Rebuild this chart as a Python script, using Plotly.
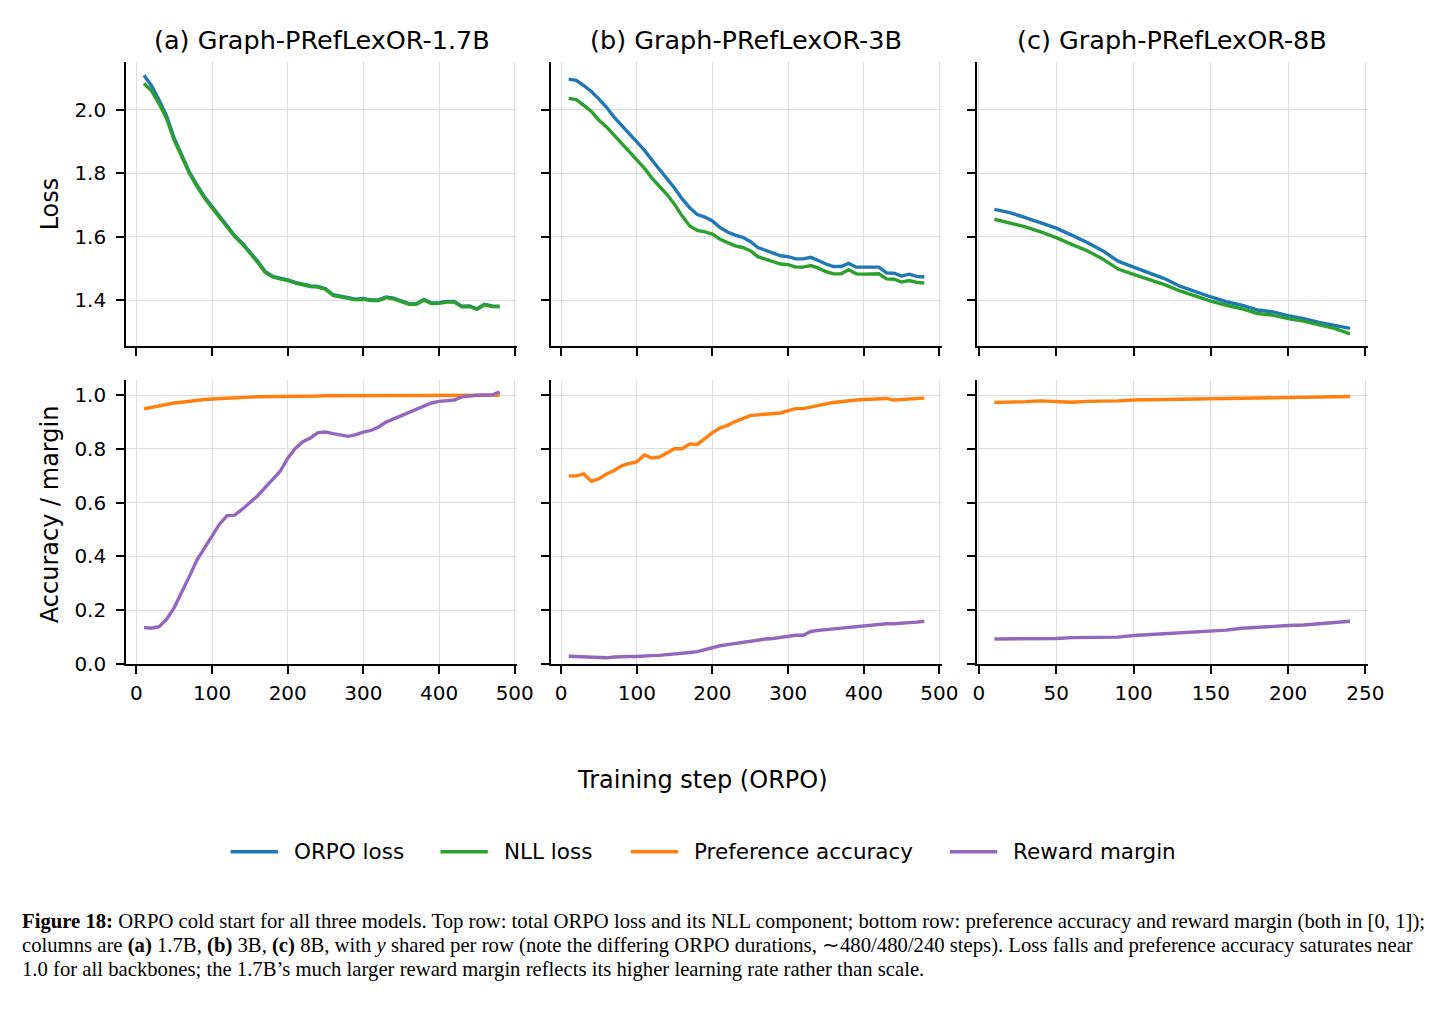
import plotly.graph_objects as go

# ---------------- data ----------------
steps_a = list(range(10, 490, 10))   # 1.7B, 48 points
steps_b = list(range(10, 490, 10))   # 3B
steps_c = list(range(10, 250, 10))   # 8B, 24 points

orpo_a = [2.109, 2.076, 2.030, 1.980, 1.910, 1.857, 1.804, 1.763, 1.726, 1.695,
          1.663, 1.632, 1.603, 1.580, 1.552, 1.523, 1.491, 1.475, 1.469, 1.464,
          1.456, 1.451, 1.445, 1.443, 1.436, 1.417, 1.412, 1.408, 1.403, 1.405,
          1.401, 1.401, 1.410, 1.406, 1.397, 1.389, 1.389, 1.402, 1.391, 1.392,
          1.396, 1.396, 1.381, 1.382, 1.373, 1.387, 1.382, 1.381]
nll_a = [2.083, 2.060, 2.019, 1.972, 1.904, 1.852, 1.800, 1.759, 1.722, 1.691,
         1.660, 1.629, 1.600, 1.577, 1.549, 1.520, 1.488, 1.473, 1.467, 1.462,
         1.454, 1.449, 1.443, 1.441, 1.434, 1.415, 1.410, 1.406, 1.401, 1.403,
         1.399, 1.399, 1.408, 1.404, 1.395, 1.387, 1.387, 1.400, 1.389, 1.390,
         1.394, 1.394, 1.379, 1.380, 1.371, 1.385, 1.380, 1.379]

orpo_b = [2.097, 2.093, 2.076, 2.058, 2.034, 2.008, 1.977, 1.951, 1.925, 1.899,
          1.873, 1.842, 1.813, 1.785, 1.753, 1.719, 1.691, 1.670, 1.662, 1.650,
          1.629, 1.615, 1.605, 1.598, 1.585, 1.566, 1.558, 1.549, 1.540, 1.537,
          1.530, 1.530, 1.535, 1.525, 1.514, 1.506, 1.506, 1.516, 1.504, 1.504,
          1.504, 1.504, 1.486, 1.485, 1.476, 1.482, 1.475, 1.473]
nll_b = [2.036, 2.032, 2.014, 1.995, 1.967, 1.946, 1.920, 1.894, 1.868, 1.842,
         1.816, 1.785, 1.759, 1.733, 1.702, 1.665, 1.634, 1.620, 1.615, 1.608,
         1.592, 1.582, 1.571, 1.566, 1.556, 1.537, 1.530, 1.522, 1.514, 1.512,
         1.504, 1.504, 1.509, 1.501, 1.490, 1.483, 1.483, 1.496, 1.483, 1.482,
         1.483, 1.483, 1.467, 1.466, 1.457, 1.462, 1.456, 1.454]

orpo_c = [1.686, 1.676, 1.660, 1.644, 1.627, 1.605, 1.582, 1.556, 1.523, 1.504,
          1.485, 1.468, 1.444, 1.426, 1.410, 1.395, 1.384, 1.369, 1.363, 1.351,
          1.342, 1.330, 1.321, 1.311]
nll_c = [1.655, 1.644, 1.631, 1.615, 1.597, 1.576, 1.556, 1.530, 1.498, 1.481,
         1.464, 1.449, 1.429, 1.412, 1.397, 1.384, 1.373, 1.358, 1.353, 1.342,
         1.334, 1.322, 1.311, 1.294]

acc_a = [0.949, 0.955, 0.961, 0.966, 0.971, 0.974, 0.978, 0.981, 0.984, 0.986,
         0.988, 0.989, 0.990, 0.991, 0.993, 0.994, 0.994, 0.995, 0.995, 0.996,
         0.996, 0.997, 0.997, 0.997, 0.998, 0.998, 0.998, 0.998, 0.999, 0.999,
         0.999, 0.999, 0.999, 0.999, 0.999, 0.999, 1.000, 1.000, 1.000, 1.000,
         1.000, 1.000, 1.000, 1.000, 1.000, 1.000, 1.000, 1.000]
margin_a = [0.136, 0.133, 0.139, 0.167, 0.210, 0.265, 0.326, 0.387, 0.430, 0.473,
            0.521, 0.552, 0.554, 0.576, 0.601, 0.625, 0.656, 0.686, 0.717, 0.766,
            0.802, 0.827, 0.841, 0.861, 0.863, 0.857, 0.851, 0.847, 0.853, 0.863,
            0.869, 0.882, 0.900, 0.912, 0.922, 0.936, 0.949, 0.961, 0.971, 0.977,
            0.978, 0.982, 0.994, 0.998, 1.000, 1.001, 1.001, 1.013]

acc_b = [0.700, 0.700, 0.707, 0.680, 0.689, 0.707, 0.720, 0.737, 0.746, 0.752,
         0.778, 0.766, 0.770, 0.786, 0.801, 0.801, 0.819, 0.817, 0.839, 0.861,
         0.878, 0.888, 0.902, 0.914, 0.924, 0.927, 0.929, 0.932, 0.934, 0.943,
         0.950, 0.950, 0.957, 0.963, 0.968, 0.973, 0.977, 0.979, 0.982, 0.984,
         0.985, 0.987, 0.988, 0.982, 0.984, 0.985, 0.988, 0.989]
margin_b = [0.029, 0.028, 0.026, 0.023, 0.022, 0.023, 0.026, 0.028, 0.028, 0.028,
            0.031, 0.031, 0.032, 0.034, 0.037, 0.038, 0.043, 0.046, 0.054, 0.062,
            0.068, 0.072, 0.076, 0.083, 0.087, 0.089, 0.093, 0.095, 0.099, 0.105,
            0.107, 0.107, 0.121, 0.125, 0.128, 0.132, 0.134, 0.136, 0.140, 0.144,
            0.145, 0.147, 0.150, 0.150, 0.151, 0.154, 0.156, 0.159]

acc_c = [0.973, 0.973, 0.976, 0.979, 0.978, 0.974, 0.977, 0.977, 0.979, 0.982,
         0.983, 0.985, 0.987, 0.988, 0.989, 0.987, 0.989, 0.990, 0.990, 0.991,
         0.993, 0.993, 0.994, 0.995]
margin_c = [0.093, 0.093, 0.094, 0.094, 0.095, 0.098, 0.098, 0.098, 0.100, 0.106,
            0.109, 0.112, 0.115, 0.117, 0.122, 0.126, 0.133, 0.137, 0.139, 0.143,
            0.145, 0.149, 0.154, 0.159]

panel_titles = ["(a) Graph-PRefLexOR-1.7B", "(b) Graph-PRefLexOR-3B", "(c) Graph-PRefLexOR-8B"]
series_names = ["ORPO loss", "NLL loss", "Preference accuracy", "Reward margin"]
series_colors = ["#1f77b4", "#2ca02c", "#ff7f0e", "#9467bd"]
ticks_ab = [0, 100, 200, 300, 400, 500]
ticks_c = [0, 50, 100, 150, 200, 250]
ticks_loss = [1.4, 1.6, 1.8, 2.0]
ticks_acc = [0.0, 0.2, 0.4, 0.6, 0.8, 1.0]

# ---------------- figure ----------------
W, H = 1438, 1009
fig = go.Figure()

top_data = [(steps_a, orpo_a, nll_a), (steps_b, orpo_b, nll_b), (steps_c, orpo_c, nll_c)]
bot_data = [(steps_a, acc_a, margin_a), (steps_b, acc_b, margin_b), (steps_c, acc_c, margin_c)]

LW = 3.4
for i, (s, o, n) in enumerate(top_data):
    ax = "" if i == 0 else str(i + 1)
    fig.add_trace(go.Scatter(x=s, y=o, mode="lines", name=series_names[0],
                             line=dict(color=series_colors[0], width=LW),
                             xaxis="x" + ax, yaxis="y" + ax, showlegend=False))
    fig.add_trace(go.Scatter(x=s, y=n, mode="lines", name=series_names[1],
                             line=dict(color=series_colors[1], width=LW),
                             xaxis="x" + ax, yaxis="y" + ax, showlegend=False))
for i, (s, a, m) in enumerate(bot_data):
    ax = str(i + 4)
    fig.add_trace(go.Scatter(x=s, y=a, mode="lines", name=series_names[2],
                             line=dict(color=series_colors[2], width=LW),
                             xaxis="x" + ax, yaxis="y" + ax, showlegend=False))
    fig.add_trace(go.Scatter(x=s, y=m, mode="lines", name=series_names[3],
                             line=dict(color=series_colors[3], width=LW),
                             xaxis="x" + ax, yaxis="y" + ax, showlegend=False))

col_px = [(124, 521), (555, 952), (987, 1384)]
row_px = [(63, 350), (385, 672)]
FONT = "DejaVu Sans"
tickfont = dict(family=FONT, size=20, color="black")

common = dict(showline=True, linecolor="black", linewidth=2, ticks="outside",
              ticklen=8, tickwidth=2, tickcolor="black", showgrid=True,
              gridcolor="#dddddd", gridwidth=1, zeroline=False, tickfont=tickfont,
              mirror=False)

def py(pix):
    return 1 - pix / H

layout = {}
for r in range(2):
    for c in range(3):
        idx = r * 3 + c + 1
        key = "" if idx == 1 else str(idx)
        x0, x1 = col_px[c]
        y0, y1 = row_px[r]
        xr = [-13.5, 503.5] if c < 2 else [-1.5, 251.5]
        xt = ticks_ab if c < 2 else ticks_c
        yr = [1.256, 2.15] if r == 0 else [0.0, 1.055]
        yt = ticks_loss if r == 0 else ticks_acc
        layout["xaxis" + key] = dict(common, domain=[x0 / W, x1 / W], range=xr,
                                     tickvals=xt, ticktext=[str(v) for v in xt],
                                     showticklabels=(r == 1), anchor="y" + key,
                                     ticklabelstandoff=2)
        layout["yaxis" + key] = dict(common, domain=[py(y1), py(y0)], range=yr,
                                     tickvals=yt, ticktext=[f"{v:.1f}" for v in yt],
                                     showticklabels=(c == 0), anchor="x" + key,
                                     ticklabelstandoff=6)

fig.update_layout(**layout)

annotations = []
for c in range(3):
    x0, x1 = col_px[c]
    annotations.append(dict(text=panel_titles[c], x=(x0 + x1) / 2 / W, y=py(40),
                            xref="paper", yref="paper", showarrow=False,
                            xanchor="center", yanchor="middle",
                            font=dict(family=FONT, size=25.5, color="black")))
annotations.append(dict(text="Loss", x=47 / W, y=py(206.5), xref="paper", yref="paper",
                        showarrow=False, textangle=-90, xanchor="center", yanchor="middle",
                        font=dict(family=FONT, size=24, color="black")))
annotations.append(dict(text="Accuracy / margin", x=47 / W, y=py(520), xref="paper",
                        yref="paper", showarrow=False, textangle=-90, xanchor="center",
                        yanchor="middle", font=dict(family=FONT, size=24, color="black")))
annotations.append(dict(text="Training step (ORPO)", x=709 / W, y=py(789), xref="paper",
                        yref="paper", showarrow=False, xanchor="center", yanchor="middle",
                        font=dict(family=FONT, size=24, color="black")))

# legend (drawn as line samples + labels below the panels)
legend_line_x = [230, 443, 636, 960]
legend_y = 862
shapes = []
for k in range(4):
    lx = legend_line_x[k]
    shapes.append(dict(type="line", xref="paper", yref="paper",
                       x0=lx / W, x1=(lx + 48) / W, y0=py(legend_y), y1=py(legend_y),
                       line=dict(color=series_colors[k], width=LW)))
    annotations.append(dict(text=series_names[k], x=(lx + 62) / W, y=py(legend_y),
                            xref="paper", yref="paper", showarrow=False,
                            xanchor="left", yanchor="middle",
                            font=dict(family=FONT, size=21.5, color="black")))

caption_lines = [
    "<b>Figure 18:</b> ORPO cold start for all three models. Top row: total ORPO loss and its NLL component; "
    "bottom row: preference accuracy and reward margin (both in [0, 1]);",
    "columns are <b>(a)</b> 1.7B, <b>(b)</b> 3B, <b>(c)</b> 8B, with <i>y</i> shared per row "
    "(note the differing ORPO durations, \u223c480/480/240 steps). Loss falls and preference accuracy saturates near",
    "1.0 for all backbones; the 1.7B\u2019s much larger reward margin reflects its higher learning rate rather than scale.",
]
caption_y = [933, 957, 981]
for txt, cy in zip(caption_lines, caption_y):
    annotations.append(dict(text=txt, x=16 / W, y=py(cy), xref="paper", yref="paper",
                            showarrow=False, xanchor="left", yanchor="middle", align="left",
                            font=dict(family="Liberation Serif", size=20.7, color="black")))

fig.update_layout(
    annotations=annotations,
    shapes=shapes,
    width=W, height=H,
    margin=dict(l=0, r=0, t=0, b=0),
    paper_bgcolor="white", plot_bgcolor="white",
    showlegend=False,
)

fig.write_html("out.html", post_script="document.body.style.margin='0';")
